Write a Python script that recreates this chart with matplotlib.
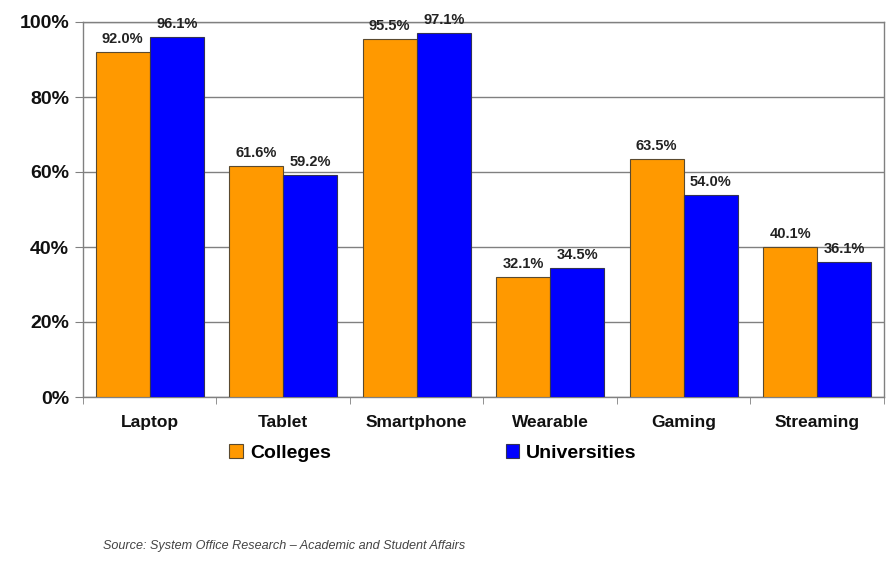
import matplotlib
matplotlib.use("Agg")
import matplotlib.pyplot as plt
import numpy as np
from matplotlib.patches import Patch

categories = ["Laptop", "Tablet", "Smartphone", "Wearable", "Gaming", "Streaming"]
colleges = [92.0, 61.6, 95.5, 32.1, 63.5, 40.1]
universities = [96.1, 59.2, 97.1, 34.5, 54.0, 36.1]
yticks = [0, 20, 40, 60, 80, 100]
series_names = ["Colleges", "Universities"]

plt.rcParams['font.family'] = ['Liberation Sans', 'DejaVu Sans']

fig = plt.figure(figsize=(8.87, 5.61), dpi=100)
ax = fig.add_axes([83/887, 1-397/561, (884-83)/887, (397-22)/561])

x = np.arange(len(categories))
w = 0.405
orange = "#FF9900"
blue = "#0000FF"
b1 = ax.bar(x - w/2, colleges, w, color=orange, edgecolor="#5a4a30", linewidth=0.8, zorder=3)
b2 = ax.bar(x + w/2, universities, w, color=blue, edgecolor="#333355", linewidth=0.8, zorder=3)

for bars, vals in ((b1, colleges), (b2, universities)):
    for r, v in zip(bars, vals):
        ax.annotate(f"{v:.1f}%", (r.get_x() + r.get_width()/2, v), xytext=(0, 4),
                    textcoords="offset points", ha="center", va="bottom",
                    fontsize=10.5, fontweight="bold", color="#222222", zorder=4)

ax.set_xlim(-0.5, len(categories) - 0.5)
ax.set_ylim(0, 100)
ax.set_yticks(yticks)
ax.set_yticklabels([f"{t}%" for t in yticks], fontsize=14, fontweight="bold", color="#111111")
ax.yaxis.grid(True, color="#808080", linewidth=1.0, zorder=0)
ax.set_axisbelow(True)

ax.set_xticks(x)
ax.set_xticklabels(categories, fontsize=12.5, fontweight="bold", color="#111111")
ax.set_xticks(np.arange(-0.5, len(categories) + 0.5, 1), minor=True)
ax.tick_params(axis="x", which="major", length=0, pad=13)
ax.tick_params(axis="x", which="minor", length=5, color="#808080", direction="out")
ax.tick_params(axis="y", length=6, color="#808080", pad=4)

for s in ax.spines.values():
    s.set_color("#808080")
    s.set_linewidth(1.0)

handles = [Patch(facecolor=orange, edgecolor="#5a4a30", linewidth=0.8),
           Patch(facecolor=blue, edgecolor="#333355", linewidth=0.8)]
fig.legend(handles, series_names, loc="center left", bbox_to_anchor=(212/887, 1-453/561),
           ncol=2, frameon=False, handlelength=0.7, handleheight=0.7,
           handletextpad=0.35, columnspacing=9.0,
           prop={"weight": "bold", "size": 14})

fig.text(103/887, 1-546/561, "Source: System Office Research \u2013 Academic and Student Affairs",
         fontsize=9.1, style="italic", color="#444444", ha="left", va="center")

fig.savefig("out.png", dpi=100)
